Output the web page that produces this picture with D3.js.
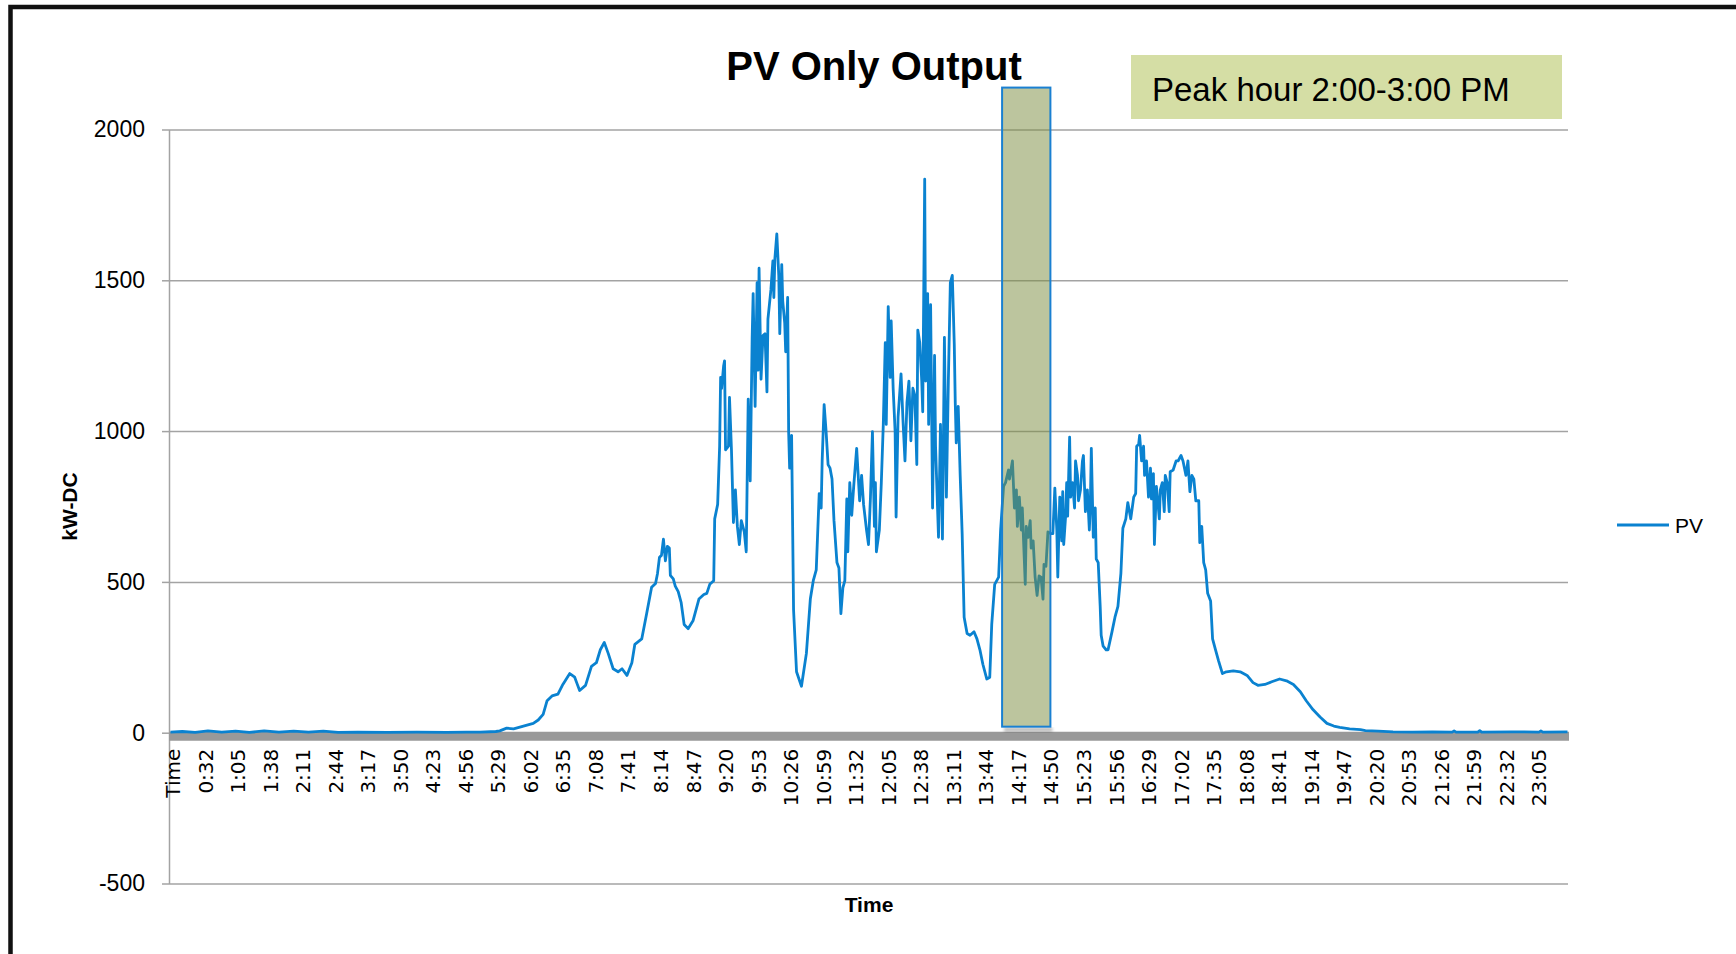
<!DOCTYPE html>
<html>
<head>
<meta charset="utf-8">
<title>PV Only Output</title>
<script src="https://cdn.jsdelivr.net/npm/d3@7"></script>
<style>
  body { margin: 0; background: #fff; }
  svg { display: block; }
</style>
</head>
<body>
<svg id="chart" width="1736" height="954"></svg>
<script>
// chart data

// category axis: the header row "Time", then one category per minute
var headerCategory = "Time";
var firstMinute = 0;
var lastMinute = 1417;

// labels shown under the axis (every 33rd category)
var tickLabels = ["Time", "0:32", "1:05", "1:38", "2:11", "2:44", "3:17", "3:50", "4:23", "4:56",
  "5:29", "6:02", "6:35", "7:08", "7:41", "8:14", "8:47", "9:20", "9:53", "10:26", "10:59",
  "11:32", "12:05", "12:38", "13:11", "13:44", "14:17", "14:50", "15:23", "15:56", "16:29",
  "17:02", "17:35", "18:08", "18:41", "19:14", "19:47", "20:20", "20:53", "21:26", "21:59",
  "22:32", "23:05"];

var yTicks = [-500, 0, 500, 1000, 1500, 2000];

// pv output: minute of the day and kW-DC
var pvMinute = [
  0, 12, 25, 38, 52, 66, 80, 95, 110, 125, 140, 155, 170, 190, 220, 250, 280, 300, 314,
  330, 334, 341, 348, 358, 368, 373, 378, 382, 387,
  393, 398, 405, 410, 412, 415, 421, 427, 432, 436,
  440, 444, 449, 454, 458, 463, 468, 471, 478, 483,
  488, 492, 494, 496, 498, 500, 502, 504, 506, 507,
  510, 512, 515, 518, 521, 525, 530, 536, 541,
  544, 547, 551, 552, 555, 557, 558, 559, 561, 562,
  563, 566, 567, 569, 571, 573, 575, 577, 579, 582,
  584, 586, 588, 590, 591, 593, 595, 596, 597, 599,
  601, 603, 605, 606, 609, 611, 612, 613, 615, 617,
  618, 620, 621, 623, 624, 626, 627, 628, 630, 632,
  635, 640, 645, 649, 652, 655, 658, 660, 661, 663,
  665, 667, 669, 671, 673, 676, 678, 680, 682, 684,
  686, 687, 689, 691, 693, 696, 699, 701, 703, 706,
  708, 710, 712, 714, 715, 716, 719, 721, 723, 725,
  726, 728, 730, 731, 733, 735, 736, 738, 741, 743,
  745, 747, 749, 751, 753, 755, 757, 758,
  760, 762, 763, 765, 766, 768, 769, 771, 773, 775,
  776, 779, 781, 783, 785, 787, 789, 791, 793, 795,
  796, 797, 799, 801, 803, 805, 808, 811, 815, 818,
  821, 824, 828, 831, 833, 836, 840, 842, 845, 847,
  850, 851, 854, 856, 858, 859, 861, 863, 864, 867,
  868, 870, 872, 873, 875, 877, 879, 881, 883, 885,
  886, 888, 890, 893, 895, 897, 899, 900, 902, 904,
  905, 906, 908, 909, 910, 912, 913, 915, 917, 918,
  920, 921, 923, 925, 926, 928, 930, 932, 933, 934,
  936, 938, 939, 941, 943, 944, 946, 949, 951, 955,
  958, 961, 964, 966, 969, 971, 974, 977, 979, 980,
  982,
  983, 985, 987, 988, 990, 992, 994, 995, 997, 998,
  1000, 1003, 1004, 1006, 1008, 1009, 1011, 1013, 1014, 1017,
  1020, 1022, 1025, 1027, 1030, 1032, 1034, 1036, 1038, 1040,
  1043, 1044, 1046, 1048, 1050, 1052, 1055, 1057, 1060, 1063,
  1067, 1071, 1078, 1085, 1092, 1098, 1103, 1110, 1117, 1125,
  1132, 1139, 1146, 1152, 1159, 1166, 1173, 1180, 1186, 1196,
  1207, 1212,
  1225, 1240, 1260, 1280, 1300, 1302, 1304, 1326, 1328, 1330, 1360, 1388, 1390, 1392, 1417
];
var pvKW = [
  2, 4, 1, 6, 2, 5, 1, 6, 2, 5, 2, 5, 1, 2, 1, 2, 1, 2, 2,
  4, 6, 15, 13, 22, 31, 42, 61, 106, 122,
  128, 160, 196, 184, 166, 140, 157, 220, 232, 275,
  299, 263, 212, 202, 212, 190, 232, 293, 311, 395,
  482, 495, 528, 582, 588, 642, 570, 618, 612, 522,
  510, 486, 468, 431, 359, 345, 371, 443, 458,
  462, 492, 504, 709, 757, 950, 1178, 1142, 1215, 1233,
  938, 950, 1112, 938, 697, 805, 684, 624, 703, 666,
  600, 1106, 835, 1311, 1456, 1082, 1492, 1202, 1540, 1172,
  1317, 1323, 1130, 1371, 1468, 1564, 1443, 1570, 1654, 1515,
  1323, 1552, 1432, 1359, 1263, 1443, 998, 877, 986, 407,
  202, 154, 263, 443, 504, 540, 793, 745, 901, 1088,
  998, 889, 877, 841, 703, 564, 546, 395, 480, 504,
  775, 600, 829, 721, 817, 943, 769, 853, 757, 672,
  624, 781, 998, 684, 829, 600, 672, 829, 1022, 1293,
  1022, 1413, 1178, 1365, 1142, 998, 715, 1046, 1190, 1034,
  901, 1094, 1166, 968, 1142, 1118, 889, 1335,
  1293, 1166, 1064, 1835, 1166, 1456, 1022, 1419, 745, 1251,
  950, 648, 1022, 642, 1311, 781, 1166, 1492, 1516, 1287,
  1094, 961, 1082, 853, 660, 383, 329, 323, 335, 311,
  275, 227, 178, 184, 359, 492, 516, 672, 817, 829,
  871, 841, 901, 745, 805, 684, 781, 672, 745, 492,
  684, 648, 703, 612, 636, 516, 455, 520, 516, 443,
  558, 552, 666, 660, 660, 811, 672, 516, 781, 636,
  799, 624, 721, 829, 718, 980, 781, 829, 745, 901,
  853, 769, 805, 901, 919, 733, 805, 672, 757, 943,
  648, 745, 576, 564, 419, 323, 287, 275, 275, 335,
  383, 419, 528, 678, 709, 763, 709, 781, 793, 950,
  956,
  986, 901, 950, 853, 901, 781, 877, 775, 859, 624,
  817, 709, 805, 829, 733, 853, 829, 733, 865, 871,
  901, 901, 919, 901, 853, 901, 799, 853, 841, 769,
  769, 630, 684, 564, 540, 462, 437, 311, 275, 239,
  196, 202, 205, 202, 190, 166, 157, 160, 169, 178,
  172, 160, 136, 106, 76, 52, 31, 22, 18, 13,
  10, 7,
  5, 3, 2, 3, 2, 6, 2, 2, 7, 2, 3, 2, 6, 2, 3
];

// hand drawn peak-hour box (minutes and kW it covers)
var peakFromMinute = 844;
var peakToMinute = 893;
var peakLowKW = 20;
var peakHighKW = 2139;

var titleText = "PV Only Output";
var peakText = "Peak hour 2:00-3:00 PM";
var yTitle = "kW-DC";
var xTitle = "Time";
var seriesName = "PV";

// helpers
function minuteLabel(m) {
  var h = Math.floor(m / 60);
  var mm = m % 60;
  return h + ":" + (mm < 10 ? "0" + mm : mm);
}

var categories = [headerCategory].concat(d3.range(firstMinute, lastMinute + 1).map(minuteLabel));
var pvData = pvMinute.map(function(m, i) { return { minute: m, kw: pvKW[i] }; });

// layout
var plot = { left: 169, right: 1568, top: 129.5, bottom: 883.5 };
var lineBlue = "#0a82d0";
var font = "'Liberation Sans', Arial, sans-serif";

var svg = d3.select("#chart");

var defs = svg.append("defs");
defs.append("filter").attr("id", "blur")
  .append("feGaussianBlur").attr("stdDeviation", 1.6);

// scales
var x = d3.scaleBand().domain(categories).range([plot.left, plot.right]).padding(0);
var y = d3.scaleLinear().domain([-500, 2000]).range([plot.bottom, plot.top]);

function xPos(m) { return x(minuteLabel(m)) + x.bandwidth() / 2; }

// outer frame
svg.append("rect")
  .attr("x", 10.5).attr("y", 7).attr("width", 1800).attr("height", 1000)
  .attr("fill", "none").attr("stroke", "#111").attr("stroke-width", 4.5);

// gridlines (zero is covered by the category axis)
var grid = svg.append("g")
  .attr("transform", "translate(" + plot.left + ",0)")
  .call(d3.axisLeft(y).tickValues(yTicks.filter(function(d) { return d !== 0; }))
    .tickSize(-(plot.right - plot.left)).tickFormat(""));
grid.select(".domain").remove();
grid.selectAll(".tick line").attr("stroke", "#a3a3a3").attr("stroke-width", 1.5);

// value axis
var yAxis = svg.append("g")
  .attr("transform", "translate(" + plot.left + ",0)")
  .call(d3.axisLeft(y).tickValues(yTicks).tickSize(7).tickPadding(17).tickSizeOuter(0)
    .tickFormat(function(d) { return String(d); }));
yAxis.select(".domain").attr("stroke", "#a3a3a3").attr("stroke-width", 1.5);
yAxis.selectAll(".tick line").attr("stroke", "#a3a3a3").attr("stroke-width", 1.5);
yAxis.selectAll(".tick text")
  .attr("font-family", font).attr("font-size", 23).attr("fill", "#000");

// category axis: thick gray line at zero
svg.append("line")
  .attr("x1", plot.left).attr("x2", plot.right + 1)
  .attr("y1", y(0) + 3.5).attr("y2", y(0) + 3.5)
  .attr("stroke", "#999").attr("stroke-width", 9);

var xAxis = svg.append("g")
  .attr("transform", "translate(0," + y(0) + ")")
  .call(d3.axisBottom(x).tickValues(tickLabels).tickSize(0));
xAxis.select(".domain").remove();
xAxis.selectAll(".tick text")
  .attr("transform", "rotate(-90)")
  .attr("text-anchor", "end")
  .attr("x", -16).attr("y", 3.5).attr("dy", "0.35em")
  .attr("font-family", "'DejaVu Sans', Verdana, sans-serif")
  .attr("font-size", 20).attr("fill", "#000");

// pv line
var line = d3.line()
  .x(function(d) { return xPos(d.minute); })
  .y(function(d) { return y(d.kw); });

svg.append("path")
  .datum(pvData)
  .attr("d", line)
  .attr("fill", "none")
  .attr("stroke", lineBlue)
  .attr("stroke-width", 2.8)
  .attr("stroke-linejoin", "round");

// peak hour highlight, drawn on top of the line
var px0 = x(minuteLabel(peakFromMinute));
var px1 = x(minuteLabel(peakToMinute));

// soft shadow under the box
svg.append("rect")
  .attr("x", px0 + 2).attr("y", y(peakLowKW) + 1)
  .attr("width", px1 - px0).attr("height", 4)
  .attr("fill", "#000").attr("fill-opacity", 0.28)
  .attr("filter", "url(#blur)");

svg.append("rect")
  .attr("x", px0)
  .attr("y", y(peakHighKW))
  .attr("width", px1 - px0)
  .attr("height", y(peakLowKW) - y(peakHighKW))
  .attr("fill", "rgb(122,140,62)").attr("fill-opacity", 0.5)
  .attr("stroke", "#1a80d2").attr("stroke-width", 2);

// peak hour note
svg.append("rect")
  .attr("x", 1131).attr("y", 55).attr("width", 431).attr("height", 64)
  .attr("fill", "#d5dea5");
svg.append("text")
  .attr("x", 1152).attr("y", 101)
  .attr("font-family", font).attr("font-size", 33).attr("fill", "#000")
  .text(peakText);

// title
svg.append("text")
  .attr("x", 874).attr("y", 80)
  .attr("text-anchor", "middle")
  .attr("font-family", font).attr("font-size", 40).attr("font-weight", "bold")
  .text(titleText);

// axis titles
svg.append("text")
  .attr("transform", "translate(77," + ((plot.top + plot.bottom) / 2) + ") rotate(-90)")
  .attr("text-anchor", "middle")
  .attr("font-family", font).attr("font-size", 21).attr("font-weight", "bold")
  .text(yTitle);

svg.append("text")
  .attr("x", 869).attr("y", 912)
  .attr("text-anchor", "middle")
  .attr("font-family", font).attr("font-size", 21).attr("font-weight", "bold")
  .text(xTitle);

// legend
var legend = svg.append("g").attr("transform", "translate(1617,525)");
legend.append("line")
  .attr("x1", 0).attr("x2", 52).attr("y1", 0).attr("y2", 0)
  .attr("stroke", lineBlue).attr("stroke-width", 3);
legend.append("text")
  .attr("x", 58).attr("y", 0).attr("dy", "0.36em")
  .attr("font-family", font).attr("font-size", 21)
  .text(seriesName);
</script>
</body>
</html>
